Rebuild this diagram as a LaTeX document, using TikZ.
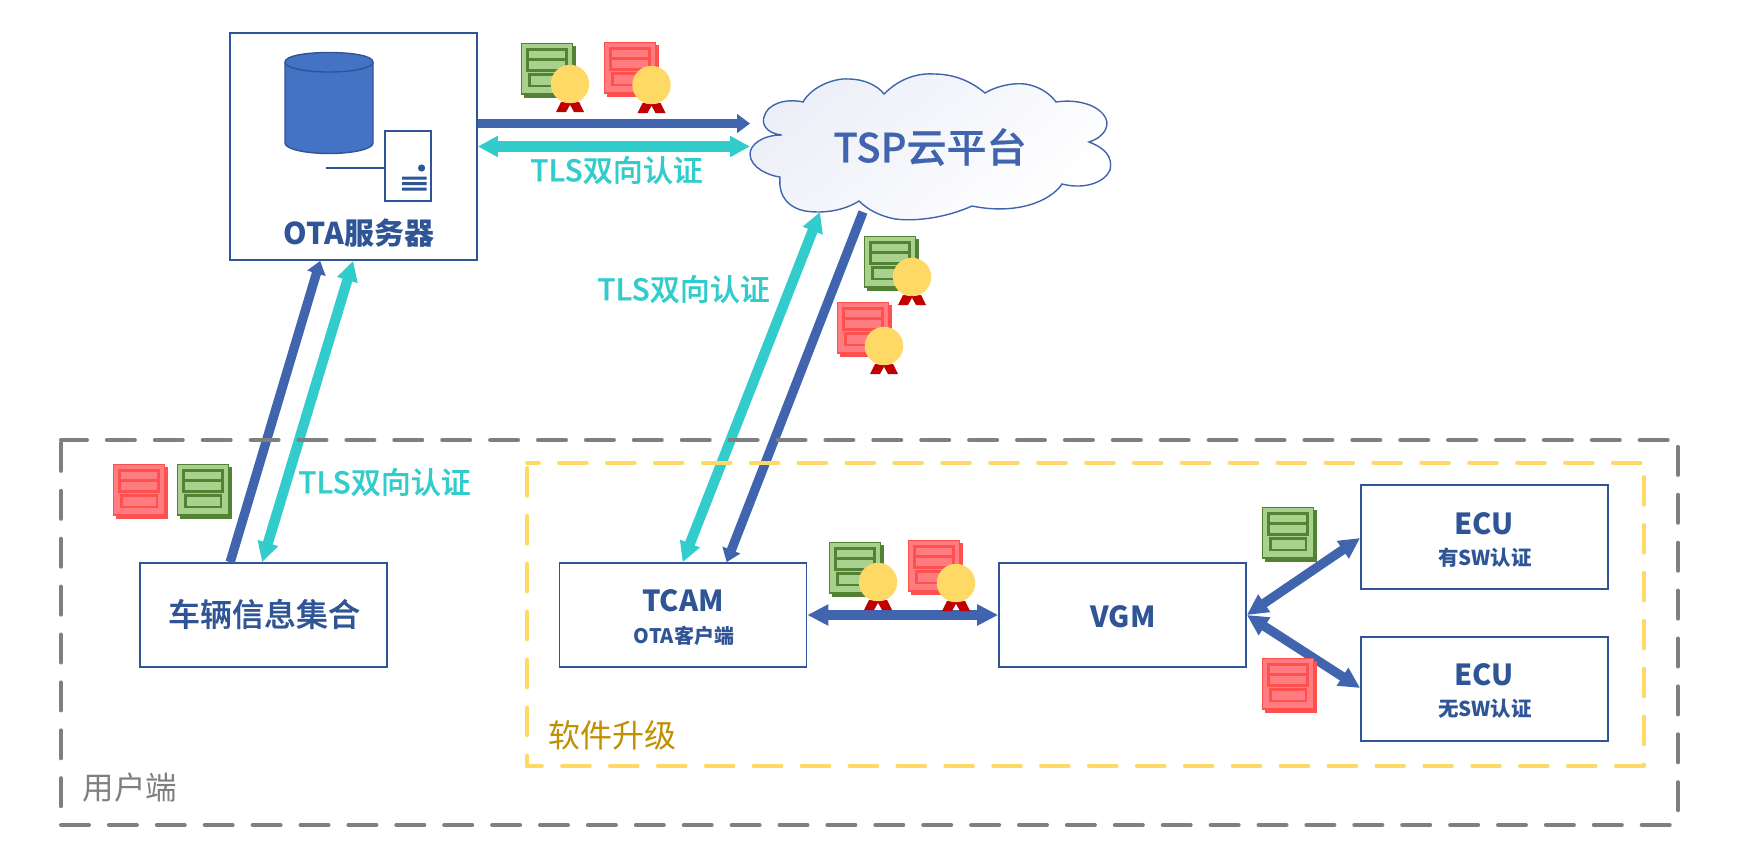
\documentclass[tikz,border=0pt]{standalone}
\usepackage{fontspec}
\setmainfont{Noto Sans CJK SC}
\newfontfamily\medfont[FakeBold=0.5]{Noto Sans CJK SC Medium}
\usetikzlibrary{arrows.meta,calc}
\definecolor{boxblue}{HTML}{2F5597}
\definecolor{arrowblue}{HTML}{4064AE}
\definecolor{cyanc}{HTML}{33CCCC}
\definecolor{cylfill}{HTML}{4472C4}
\definecolor{dashgray}{HTML}{7F7F7F}
\definecolor{dashyellow}{HTML}{FFD966}
\definecolor{softgold}{HTML}{BF9000}
\definecolor{gfill}{HTML}{A9D18E}
\definecolor{gline}{HTML}{548235}
\definecolor{gback}{HTML}{7EAA62}
\definecolor{rfill}{HTML}{FF7C80}
\definecolor{rline}{HTML}{FF5050}
\definecolor{rback}{HTML}{FF4545}
\definecolor{ribbon}{HTML}{C00000}
\definecolor{cloudtint}{HTML}{EDEFF8}
\newcommand{\fs}[1]{\fontsize{#1}{#1}\selectfont}
\tikzset{
  boxnode/.style={draw=boxblue,line width=1.7pt,fill=white,minimum width=247pt,minimum height=104pt,inner sep=0pt,text=boxblue,font=\bfseries,align=center},
  boxtext/.style={text=boxblue,inner sep=0pt},
  bluesingle/.style={draw=arrowblue,line width=9.3pt,-{Triangle[length=13pt,width=18.5pt]}},
  bluedouble/.style={draw=arrowblue,line width=9.3pt,{Triangle[length=21pt,width=20pt]}-{Triangle[length=21pt,width=20pt]}},
  cyandouble/.style={draw=cyanc,line width=10.2pt,{Triangle[length=20pt,width=20pt]}-{Triangle[length=20pt,width=20pt]}},
  tlslabel/.style={text=cyanc,font=\medfont\fs{30},inner sep=0pt},
  graydash/.style={draw=dashgray,line width=4pt,line cap=round,dash pattern=on 28pt off 19.9pt},
  yellowdash/.style={draw=dashyellow,line width=3.6pt,line cap=round,dash pattern=on 28pt off 19.9pt},
  ghost/.style={inner sep=0pt,outer sep=0pt},
}
\newcommand{\certdoc}[4]{%
  \begin{scope}[shift={(#1,#2)}]
    \fill[#4] (3,3) rectangle (55,55);
    \fill[#3] (0,0) rectangle (52,51.5);
    \draw[#4,line width=1.4pt] (0.6,0.6) rectangle (51.4,51);
    \draw[#4,line width=3pt] (6.5,6.8) rectangle (45,16.5);
    \draw[#4,line width=3pt] (6.5,16.5) rectangle (45,27.5);
    \draw[#4,line width=2.3pt] (8.5,31.5) rectangle (44,43);
  \end{scope}}
\newcommand{\medal}[2]{%
  \begin{scope}[shift={(#1,#2)}]
    \fill[ribbon] (-9,18) -- (-14,28) -- (-4,28) -- (1,19) -- cycle;
    \fill[ribbon] (9,18) -- (14,28) -- (4,28) -- (-1,19) -- cycle;
    \fill[dashyellow] (0,0) circle (19.2);
  \end{scope}}
\begin{document}
\begin{tikzpicture}[x=1pt,y=-1pt,line join=miter]
\useasboundingbox (0,0) rectangle (1738,860);
\fill[white] (0,0) rectangle (1738,860);
\node[ghost,minimum width=1617pt,minimum height=385pt] (userzone) at (869.5,632.5) {};
\node[ghost,minimum width=1117pt,minimum height=303pt] (swzone) at (1085.5,614.5) {};
\node[text=dashgray,font=\fs{31.5},inner sep=0pt] (userlabel) at (130,788) {用户端};
\node[text=softgold,font=\fs{32},inner sep=0pt] (swlabel) at (612,735) {软件升级};
% boxes
\node[boxnode,minimum height=227pt] (ota) at (353.5,146.5) {};
\node[boxtext,font=\bfseries\fs{30}] (otatext) at (359,233) {OTA服务器};
\node[boxnode] (veh) at (263.5,615) {};
\node[boxtext,font=\medfont\fs{32}] (vehtext) at (264,614) {车辆信息集合};
\node[boxnode] (tcam) at (683,615) {};
\node[boxtext,font=\bfseries\fs{29}] (tcamt) at (683,601) {TCAM};
\node[boxtext,font=\bfseries\fs{20}] (tcams) at (684,636) {OTA客户端};
\node[boxnode] (vgm) at (1122.5,615) {};
\node[boxtext,font=\bfseries\fs{29}] (vgmt) at (1123,616.5) {VGM};
\node[boxnode] (ecua) at (1484.5,537) {};
\node[boxtext,font=\bfseries\fs{29}] (ecuat) at (1484,524) {ECU};
\node[boxtext,font=\bfseries\fs{20.5}] (ecuas) at (1485,558) {有SW认证};
\node[boxnode] (ecub) at (1484.5,689) {};
\node[boxtext,font=\bfseries\fs{29}] (ecubt) at (1484,675) {ECU};
\node[boxtext,font=\bfseries\fs{20.5}] (ecubs) at (1485,709) {无SW认证};
% database and server
\draw[boxblue,fill=cylfill,line width=1.4pt] (285,62) -- (285,143) .. controls (285,149) and (305,153.5) .. (329,153.5) .. controls (353,153.5) and (373,149) .. (373,143) -- (373,62) .. controls (373,56) and (353,52.5) .. (329,52.5) .. controls (305,52.5) and (285,56) .. (285,62) -- cycle;
\draw[boxblue,line width=1.4pt] (285,62) .. controls (285,68) and (305,72) .. (329,72) .. controls (353,72) and (373,68) .. (373,62);
\draw[boxblue,line width=1.4pt,fill=white] (385,131) rectangle (431,201);
\draw[boxblue,line width=1.4pt] (326,168) -- (385,168);
\fill[boxblue] (421.6,168) circle (3.6);
\fill[boxblue] (402,176.5) rectangle (426.5,179.5) (402,182) rectangle (426.5,185) (402,187.5) rectangle (426.5,190.5);
% cloud
\node[ghost,minimum width=361pt,minimum height=147pt] (tsp) at (930.5,146.5) {};
\path[draw=arrowblue,line width=1.4pt,shading=axis,top color=cloudtint,bottom color=white,shading angle=40]
 (781.7,135) .. controls (764,133) and (762,122) .. (764,117)
 .. controls (767,104) and (785,98) .. (803,102)
 .. controls (812,86) and (835,78) .. (848,79)
 .. controls (865,79) and (878,86) .. (884,94)
 .. controls (900,78) and (918,73) .. (934,74)
 .. controls (955,74) and (972,82) .. (985,93)
 .. controls (1000,84) and (1020,82) .. (1030,85)
 .. controls (1042,88) and (1051,95) .. (1056,102)
 .. controls (1075,99) and (1095,104) .. (1103,114)
 .. controls (1112,124) and (1105,137) .. (1089,142)
 .. controls (1105,148) and (1113,157) .. (1110,170)
 .. controls (1105,182) and (1085,190) .. (1062,184)
 .. controls (1050,202) and (1015,215) .. (972,206)
 .. controls (950,216) and (920,222) .. (895,219)
 .. controls (880,216) and (868,210) .. (859,201)
 .. controls (845,210) and (825,214) .. (805,211)
 .. controls (790,208) and (778,198) .. (780,177)
 .. controls (770,176) and (750,168) .. (750,154)
 .. controls (750,145) and (762,135) .. (781.7,135) -- cycle;
\node[text=arrowblue,font=\medfont\fs{40},inner sep=0pt] (tsptext) at (930,147) {TSP云平台};
% connectors
\draw[bluesingle] ($(ota.east)+(0,-23)$) -- ($(tsp.west)+(0,-23)$);
\draw[cyandouble] (ota.east) -- (tsp.west);
\draw[bluesingle] ($(veh.north west)+(91,0)$) -- ($(ota.south west)+(91,0)$);
\draw[cyandouble] ($(veh.north west)+(123,0)$) -- ($(ota.south west)+(124,0)$);
\draw[cyandouble] ($(tcam.north west)+(124,0)$) -- ($(tsp.south west)+(70,-8)$);
\draw[bluesingle] ($(tsp.south west)+(113,-8)$) -- ($(tcam.north west)+(168,0)$);
\draw[bluedouble] (tcam.east) -- (vgm.west);
\draw[bluedouble] (vgm.east) -- ($(ecua.west)+(0,1)$);
\draw[bluedouble] (vgm.east) -- ($(ecub.west)+(0,-1)$);
% dashed groups, over the connectors
\draw[graydash,dash phase=2pt] (userzone.north west) -- (userzone.north east);
\draw[graydash,dash phase=45pt] (userzone.north west) -- (userzone.south west);
\draw[graydash] (userzone.south west) -- (userzone.south east);
\draw[graydash,dash phase=41pt] (userzone.north east) -- (userzone.south east);
\draw[yellowdash,dash phase=16pt] (swzone.north west) -- (swzone.north east);
\draw[yellowdash,dash phase=43pt] (swzone.north west) -- (swzone.south west);
\draw[yellowdash,dash phase=13pt] (swzone.south west) -- (swzone.south east);
\draw[yellowdash,dash phase=34pt] (swzone.north east) -- (swzone.south east);
% labels
\node[tlslabel] (tlsa) at (616.5,170) {TLS双向认证};
\node[tlslabel] (tlsb) at (683.5,289) {TLS双向认证};
\node[tlslabel] (tlsc) at (384.5,482) {TLS双向认证};
% certificates
\certdoc{521}{43}{gfill}{gline}\medal{570}{84}
\certdoc{604}{42}{rfill}{rline}\medal{651.5}{85}
\certdoc{864}{236}{gfill}{gline}\medal{912}{277}
\certdoc{837}{302}{rfill}{rline}\medal{884}{346}
\certdoc{829}{542}{gfill}{gline}\medal{878}{582}
\certdoc{908}{540}{rfill}{rline}\medal{956}{583}
\certdoc{1262}{507}{gfill}{gline}
\certdoc{1262}{658}{rfill}{rline}
\certdoc{113}{464}{rfill}{rline}
\certdoc{177}{464}{gfill}{gline}
\end{tikzpicture}
\end{document}
